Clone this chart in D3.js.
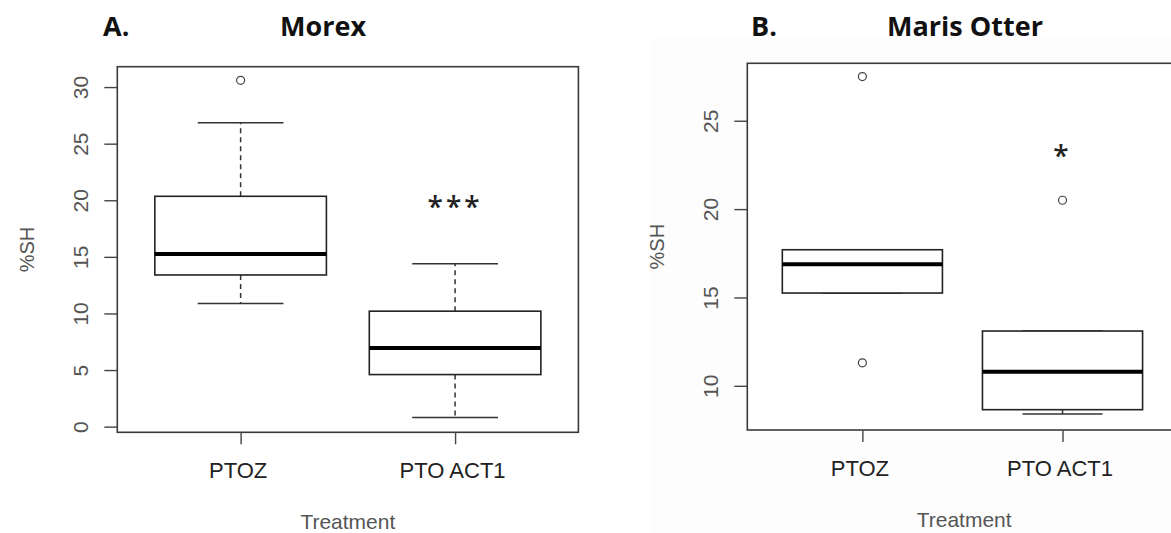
<!DOCTYPE html>
<html>
<head>
<meta charset="utf-8">
<script src="https://cdn.jsdelivr.net/npm/d3@7"></script>
<style>
  body { margin: 0; background: #fff; }
  svg { display: block; }
  .tick text { font-family: Arial, "Liberation Sans", sans-serif; fill: #555; }
</style>
</head>
<body>
<script>
// categories on the x axis
var categories = ["PTOZ", "PTO ACT1"];

// five-number summaries: [lower whisker, Q1, median, Q3, upper whisker]
var morexPTOZ = [10.87, 13.4, 15.25, 20.35, 26.85];
var morexACT1 = [0.8, 4.6, 6.95, 10.2, 14.4];
var marisPTOZ = [15.25, 15.25, 16.88, 17.7, 17.7];
var marisACT1 = [8.4, 8.65, 10.8, 13.1, 13.1];

// outliers
var morexOutlierCat = ["PTOZ"];
var morexOutlierVal = [30.6];
var marisOutlierCat = ["PTOZ", "PTOZ", "PTO ACT1"];
var marisOutlierVal = [27.5, 11.3, 20.5];

// y ticks and ranges
var morexTicks = [0, 5, 10, 15, 20, 25, 30];
var marisTicks = [10, 15, 20, 25];
var morexDomain = [-0.5, 31.8];
var marisDomain = [7.5, 28.25];

// significance marks (placed over PTO ACT1)
var morexSignif = "***", morexSignifY = 20;
var marisSignif = "*", marisSignifY = 23.4;

var W = 1171, H = 533;

var svg = d3.select("body").append("svg")
    .attr("width", W)
    .attr("height", H);

function drawPanel(p) {
    var g = svg.append("g");

    // faint background of the pasted figure
    if (p.bg) {
        g.append("rect")
            .attr("x", p.bg[0]).attr("y", p.bg[1])
            .attr("width", p.bg[2]).attr("height", p.bg[3])
            .attr("fill", "#fdfdfd");
    }

    var x = d3.scalePoint()
        .domain(categories)
        .range([p.left, p.right])
        .padding(0.575);

    var y = d3.scaleLinear()
        .domain(p.domain)
        .range([p.bottom, p.top]);

    var bw = x.step() * 0.8; // box width
    var cw = x.step() * 0.4; // whisker cap width

    // plot frame
    g.append("rect")
        .attr("x", p.left).attr("y", p.top)
        .attr("width", p.right - p.left).attr("height", p.bottom - p.top)
        .attr("fill", "#fff")
        .attr("stroke", "#3a3a3a")
        .attr("stroke-width", 1.6);

    // y axis
    var ya = g.append("g")
        .attr("transform", "translate(" + p.left + ",0)")
        .call(d3.axisLeft(y).tickValues(p.ticks).tickSize(13).tickSizeOuter(0));
    ya.select(".domain").remove();
    ya.selectAll(".tick line").attr("stroke", "#444").attr("stroke-width", 1.4);
    ya.selectAll(".tick text")
        .attr("x", null).attr("dy", null)
        .attr("transform", "translate(-29,0) rotate(-90)")
        .attr("text-anchor", "middle")
        .style("font-size", "21px");

    // x axis
    var xa = g.append("g")
        .attr("transform", "translate(0," + p.bottom + ")")
        .call(d3.axisBottom(x).tickSize(12).tickSizeOuter(0));
    xa.select(".domain").remove();
    xa.selectAll(".tick line").attr("stroke", "#444").attr("stroke-width", 1.4);
    xa.selectAll(".tick text")
        .attr("y", 46).attr("dy", null)
        .attr("dx", -3)
        .style("font-size", "22px")
        .style("fill", "#222");

    // axis titles
    g.append("text")
        .attr("x", (p.left + Math.min(p.right, W)) / 2 + p.xtOff)
        .attr("y", p.bottom + 97)
        .attr("text-anchor", "middle")
        .style("font-family", "Arial, 'Liberation Sans', sans-serif")
        .style("font-size", "21px")
        .style("fill", "#555")
        .text("Treatment");

    g.append("text")
        .attr("transform", "translate(" + (p.left - 83) + "," + y((p.domain[0] + p.domain[1]) / 2) + ") rotate(-90)")
        .attr("text-anchor", "middle")
        .style("font-family", "Arial, 'Liberation Sans', sans-serif")
        .style("font-size", "20px")
        .style("fill", "#555")
        .text("%SH");

    // boxes
    p.stats.forEach(function (s, i) {
        var cx = x(categories[i]);
        var bg = g.append("g");
        // whiskers (dashed)
        bg.append("line")
            .attr("x1", cx).attr("x2", cx)
            .attr("y1", y(s[3])).attr("y2", y(s[4]))
            .attr("stroke", "#333").attr("stroke-width", 1.5)
            .style("stroke-dasharray", "5,4");
        bg.append("line")
            .attr("x1", cx).attr("x2", cx)
            .attr("y1", y(s[1])).attr("y2", y(s[0]))
            .attr("stroke", "#333").attr("stroke-width", 1.5)
            .style("stroke-dasharray", "5,4");
        // caps
        [s[0], s[4]].forEach(function (v) {
            bg.append("line")
                .attr("x1", cx - cw / 2).attr("x2", cx + cw / 2)
                .attr("y1", y(v)).attr("y2", y(v))
                .attr("stroke", "#333").attr("stroke-width", 1.5);
        });
        // box
        bg.append("rect")
            .attr("x", cx - bw / 2).attr("width", bw)
            .attr("y", y(s[3])).attr("height", y(s[1]) - y(s[3]))
            .attr("fill", "#fff")
            .attr("stroke", "#222").attr("stroke-width", 1.6);
        // median
        bg.append("line")
            .attr("x1", cx - bw / 2).attr("x2", cx + bw / 2)
            .attr("y1", y(s[2])).attr("y2", y(s[2]))
            .attr("stroke", "#000").attr("stroke-width", 4);
    });

    // outliers
    g.selectAll(".out")
        .data(p.outVal)
        .enter().append("circle")
        .attr("class", "out")
        .attr("cx", function (d, i) { return x(p.outCat[i]); })
        .attr("cy", function (d) { return y(d); })
        .attr("r", 4)
        .attr("fill", "none")
        .attr("stroke", "#444")
        .attr("stroke-width", 1.2);

    // significance stars
    g.append("text")
        .attr("x", x(categories[1]))
        .attr("y", y(p.signifY) + 17)
        .attr("text-anchor", "middle")
        .style("font-family", "'Open Sans', sans-serif")
        .style("font-weight", "600")
        .style("font-size", "28px")
        .style("letter-spacing", "3px")
        .style("fill", "#222")
        .text(p.signif);

    // panel titles
    g.append("text")
        .attr("x", p.labelX).attr("y", 36)
        .style("font-family", "'Open Sans', sans-serif")
        .style("font-weight", "bold")
        .style("font-size", "27px")
        .style("fill", "#111")
        .text(p.label);
    g.append("text")
        .attr("x", p.titleX).attr("y", 36)
        .attr("text-anchor", "middle")
        .style("font-family", "'Open Sans', sans-serif")
        .style("font-weight", "bold")
        .style("font-size", "27px")
        .style("fill", "#111")
        .text(p.title);
}

drawPanel({
    left: 117.3, right: 578.4, top: 66.7, bottom: 432.3,
    bg: null,
    domain: morexDomain, ticks: morexTicks,
    stats: [morexPTOZ, morexACT1],
    outCat: morexOutlierCat, outVal: morexOutlierVal,
    signif: morexSignif, signifY: morexSignifY,
    label: "A.", labelX: 103, title: "Morex", titleX: 323,
    xtOff: 0
});

drawPanel({
    left: 747.3, right: 1177.6, top: 63.3, bottom: 430,
    bg: [651, 37, 520, 496],
    domain: marisDomain, ticks: marisTicks,
    stats: [marisPTOZ, marisACT1],
    outCat: marisOutlierCat, outVal: marisOutlierVal,
    signif: marisSignif, signifY: marisSignifY,
    label: "B.", labelX: 751, title: "Maris Otter", titleX: 965,
    xtOff: 5
});
</script>
</body>
</html>
